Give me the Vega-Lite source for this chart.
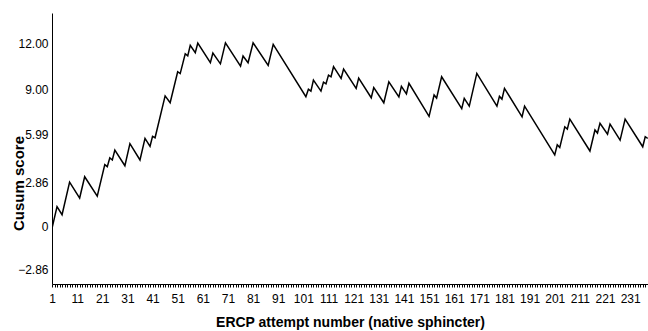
{
  "$schema": "https://vega.github.io/schema/vega-lite/v6.json",
  "width": 596,
  "height": 271,
  "autosize": {"type": "none"},
  "padding": {"left": 52, "top": 13, "right": 0, "bottom": 47},
  "background": "white",
  "config": {
    "view": {"stroke": null},
    "font": "Liberation Sans",
    "axis": {"grid": false, "domainColor": "#000000", "tickColor": "#000000", "labelColor": "#000000", "titleColor": "#000000", "labelFont": "Liberation Sans", "titleFont": "Liberation Sans"}
  },
  "data": {
    "values": [
      {"attempt": 1, "score": -0.15},
      {"attempt": 3, "score": 1.27},
      {"attempt": 5, "score": 0.74},
      {"attempt": 8, "score": 2.89},
      {"attempt": 12, "score": 1.84},
      {"attempt": 14, "score": 3.24},
      {"attempt": 19, "score": 1.96},
      {"attempt": 22, "score": 4.04},
      {"attempt": 23, "score": 3.9},
      {"attempt": 24, "score": 4.48},
      {"attempt": 25, "score": 4.34},
      {"attempt": 26, "score": 4.99},
      {"attempt": 30, "score": 3.96},
      {"attempt": 32, "score": 5.41},
      {"attempt": 36, "score": 4.34},
      {"attempt": 38, "score": 5.76},
      {"attempt": 40, "score": 5.24},
      {"attempt": 41, "score": 5.89},
      {"attempt": 42, "score": 5.8},
      {"attempt": 46, "score": 8.55},
      {"attempt": 48, "score": 8.1},
      {"attempt": 51, "score": 10.14},
      {"attempt": 52, "score": 10.02},
      {"attempt": 54, "score": 11.32},
      {"attempt": 55, "score": 11.18},
      {"attempt": 56, "score": 11.87},
      {"attempt": 58, "score": 11.39},
      {"attempt": 59, "score": 12.02},
      {"attempt": 64, "score": 10.73},
      {"attempt": 65, "score": 11.37},
      {"attempt": 68, "score": 10.66},
      {"attempt": 70, "score": 12.04},
      {"attempt": 76, "score": 10.51},
      {"attempt": 77, "score": 11.17},
      {"attempt": 79, "score": 10.73},
      {"attempt": 81, "score": 12.04},
      {"attempt": 87, "score": 10.56},
      {"attempt": 89, "score": 11.94},
      {"attempt": 102, "score": 8.5},
      {"attempt": 103, "score": 8.99},
      {"attempt": 104, "score": 8.86},
      {"attempt": 105, "score": 9.59},
      {"attempt": 108, "score": 8.87},
      {"attempt": 109, "score": 9.46},
      {"attempt": 110, "score": 9.35},
      {"attempt": 111, "score": 9.92},
      {"attempt": 112, "score": 9.81},
      {"attempt": 113, "score": 10.47},
      {"attempt": 116, "score": 9.7},
      {"attempt": 117, "score": 10.32},
      {"attempt": 122, "score": 9.05},
      {"attempt": 123, "score": 9.72},
      {"attempt": 128, "score": 8.43},
      {"attempt": 129, "score": 9.1},
      {"attempt": 133, "score": 8.1},
      {"attempt": 135, "score": 9.48},
      {"attempt": 139, "score": 8.48},
      {"attempt": 140, "score": 9.18},
      {"attempt": 142, "score": 8.69},
      {"attempt": 143, "score": 9.38},
      {"attempt": 151, "score": 7.21},
      {"attempt": 153, "score": 8.61},
      {"attempt": 154, "score": 8.41},
      {"attempt": 156, "score": 9.81},
      {"attempt": 164, "score": 7.71},
      {"attempt": 165, "score": 8.39},
      {"attempt": 167, "score": 7.88},
      {"attempt": 170, "score": 10.03},
      {"attempt": 178, "score": 7.88},
      {"attempt": 179, "score": 8.52},
      {"attempt": 180, "score": 8.34},
      {"attempt": 181, "score": 9.05},
      {"attempt": 188, "score": 7.18},
      {"attempt": 189, "score": 7.88},
      {"attempt": 201, "score": 4.68},
      {"attempt": 202, "score": 5.34},
      {"attempt": 203, "score": 5.16},
      {"attempt": 205, "score": 6.52},
      {"attempt": 206, "score": 6.37},
      {"attempt": 207, "score": 7.03},
      {"attempt": 215, "score": 4.93},
      {"attempt": 217, "score": 6.31},
      {"attempt": 218, "score": 6.11},
      {"attempt": 219, "score": 6.75},
      {"attempt": 222, "score": 6.03},
      {"attempt": 223, "score": 6.7},
      {"attempt": 227, "score": 5.65},
      {"attempt": 229, "score": 7.03},
      {"attempt": 236, "score": 5.21},
      {"attempt": 237, "score": 5.87},
      {"attempt": 238, "score": 5.76}
    ]
  },
  "mark": {"type": "line", "color": "#000000", "strokeWidth": 1.5, "clip": true},
  "encoding": {
    "x": {
      "field": "attempt",
      "type": "quantitative",
      "scale": {"domain": [1, 238.1], "nice": false, "zero": false},
      "axis": {
        "title": "ERCP attempt number (native sphincter)",
        "titleFontSize": 14,
        "titleFontWeight": "bold",
        "titlePadding": 11,
        "tickCount": 240,
        "tickMinStep": 1,
        "tickSize": 3,
        "tickWidth": 1,
        "labelExpr": "(datum.value - 1) % 10 == 0 ? datum.label : ''",
        "labelOverlap": false,
        "labelFlush": false,
        "labelBound": false,
        "labelFontSize": 12,
        "labelPadding": 6,
        "domainWidth": 1
      }
    },
    "y": {
      "field": "score",
      "type": "quantitative",
      "scale": {"domain": [-3.81, 14.0], "nice": false, "zero": false},
      "axis": {
        "title": "Cusum score",
        "titleFontSize": 15,
        "titleFontWeight": "bold",
        "titleX": -34,
        "titleY": 170,
        "titleAngle": -90,
        "titleAlign": "center",
        "titleBaseline": "middle",
        "values": [-2.86, 0, 2.86, 5.99, 9, 12],
        "labelExpr": "datum.value == 0 ? '0' : format(datum.value, '.2f')",
        "ticks": false,
        "labelPadding": 4,
        "labelFontSize": 12,
        "domainWidth": 1
      }
    }
  }
}
